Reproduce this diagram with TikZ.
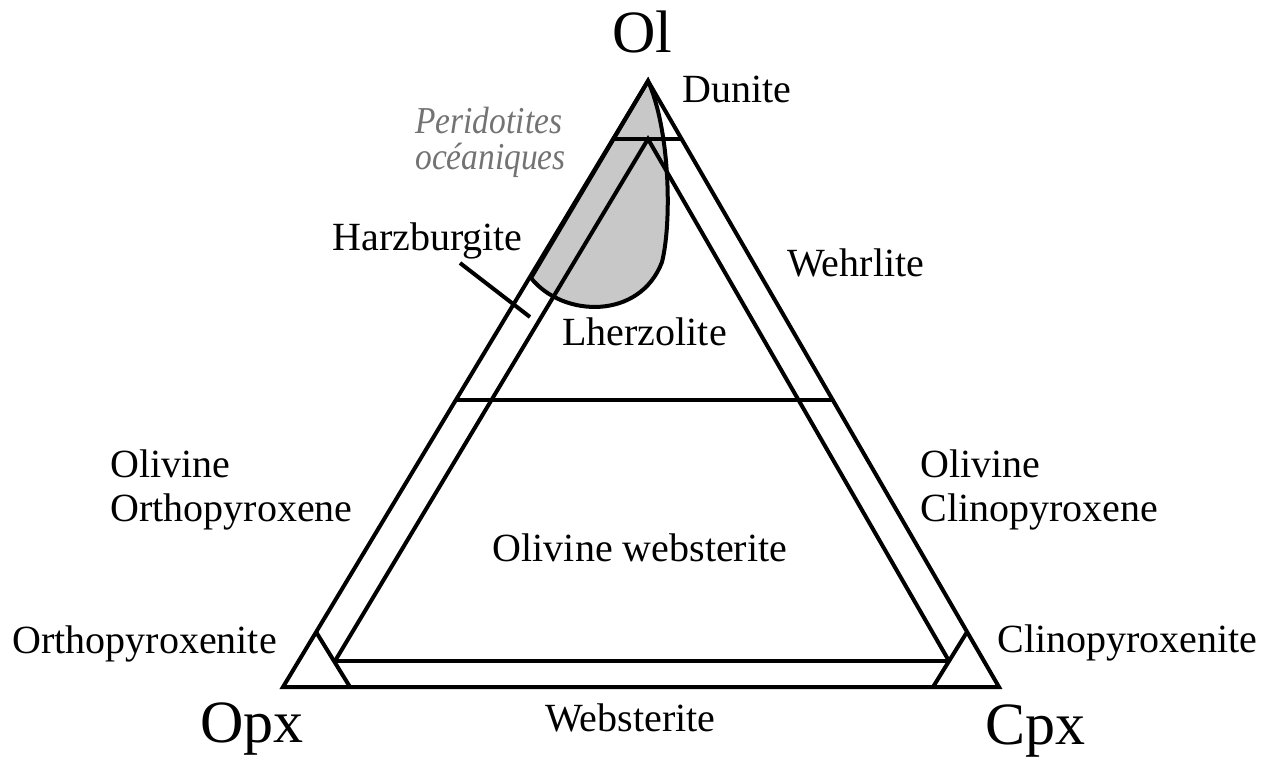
\documentclass[tikz,border=0pt]{standalone}
\usepackage{fontspec}
\usepackage{graphicx}
\setmainfont{Liberation Serif}
\definecolor{blobgray}{RGB}{200,200,200}
\definecolor{txtgray}{RGB}{115,115,115}
\newcommand{\narrowtxt}[1]{\scalebox{0.88}[1]{#1}}
\begin{document}
\begin{tikzpicture}[x=0.5pt,y=-0.5pt,
  lbl/.style={font=\fontsize{20}{24}\selectfont, inner sep=0pt, anchor=base west},
  cornerlbl/.style={font=\fontsize{30}{36}\selectfont, inner sep=0pt, anchor=base west},
  glbl/.style={font=\fontsize{19}{22}\selectfont\itshape, text=txtgray, inner sep=0pt, anchor=base west},
  edgeline/.style={line width=2pt, draw=black},
  blob/.style={line width=2pt, draw=black, fill=blobgray}]
\useasboundingbox (0,0) rectangle (1275,757);
% corners
\coordinate (ol) at (648,81);
\coordinate (opx) at (283,687);
\coordinate (cpx) at (999,687);
% horizontal lines
\coordinate (tl) at (613.1,139);
\coordinate (tr) at (681.6,139);
\coordinate (ml) at (456.9,400);
\coordinate (mr) at (832.8,400);
% inner triangle
\coordinate (ia) at (648,139);
\coordinate (il) at (335,661);
\coordinate (ir) at (949,661);
% pyroxenite lines
\coordinate (oa) at (316.1,632);
\coordinate (ob) at (350,687);
\coordinate (ca) at (967,632);
\coordinate (cb) at (933,687);
% blob
\coordinate (b1) at (531,278);
\coordinate (b2) at (662,262);
% leader
\coordinate (h1) at (460,263);
\coordinate (h2) at (530,317);

\path[blob] (ol) -- (b1) .. controls (563,318) and (640,320) .. (b2)
  .. controls (672,222) and (670,130) .. (ol) -- cycle;
\draw[edgeline] (ol) -- (opx) -- (cpx) -- cycle;
\draw[edgeline] (tl) -- (tr);
\draw[edgeline] (ml) -- (mr);
\draw[edgeline] (il) -- (ia) -- (ir);
\draw[edgeline] (il) -- (ir);
\draw[edgeline] (oa) -- (ob);
\draw[edgeline] (ca) -- (cb);
\draw[edgeline] (h1) -- (h2);

% labels
\node[cornerlbl] (tol) at (612,52) {Ol};
\node[cornerlbl] (topx) at (200,742) {Opx};
\node[cornerlbl] (tcpx) at (985,744) {Cpx};
\node[lbl] (tdun) at (682,102) {Dunite};
\node[glbl] (tper1) at (415,133) {\narrowtxt{Peridotites}};
\node[glbl] (tper2) at (415,169) {\narrowtxt{océaniques}};
\node[lbl] (tharz) at (332,250) {Harzburgite};
\node[lbl] (twehr) at (787,276) {Wehrlite};
\node[lbl] (tlherz) at (562,345) {Lherzolite};
\node[lbl] (tolL1) at (110,477) {Olivine};
\node[lbl] (tolL2) at (110,521) {Orthopyroxene};
\node[lbl] (tolR1) at (920,477) {Olivine};
\node[lbl] (tolR2) at (920,521) {Clinopyroxene};
\node[lbl, anchor=base] (tolweb) at (640,561) {Olivine websterite};
\node[lbl] (topxite) at (12,653) {Orthopyroxenite};
\node[lbl] (tcpxite) at (997,652) {Clinopyroxenite};
\node[lbl] (tweb) at (545,731) {Websterite};
\end{tikzpicture}
\end{document}
